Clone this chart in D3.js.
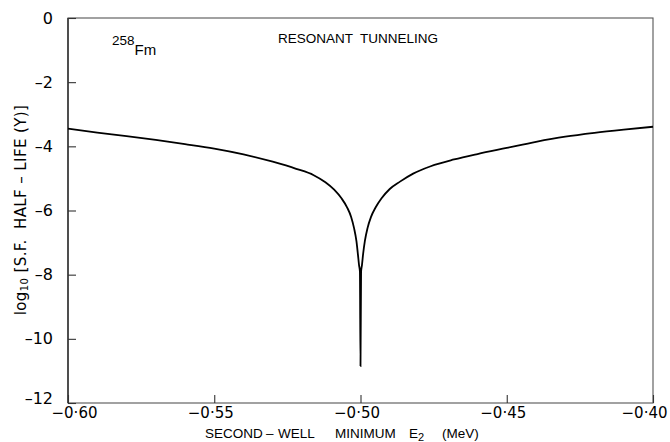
<!DOCTYPE html>
<html>
<head>
<meta charset="utf-8">
<script src="https://cdn.jsdelivr.net/npm/d3@7/dist/d3.min.js"></script>
<style>
  body { margin: 0; background: #fff; }
  svg { display: block; font-family: "Liberation Sans", "DejaVu Sans", sans-serif; }
  .pre { white-space: pre; }
</style>
</head>
<body>
<div id="chart"></div>
<script>
// second-well minimum E2 (MeV) and log10 of the S.F. half-life (years)
const energy = [-0.600, -0.590, -0.580, -0.570, -0.560, -0.550, -0.540, -0.530, -0.522, -0.516,
    -0.512, -0.509, -0.5065, -0.5046, -0.5032, -0.5022, -0.5014, -0.5009, -0.5005, -0.5002,
    -0.5000,
    -0.4998, -0.4995, -0.4991, -0.4985, -0.4976, -0.4964, -0.4948, -0.4928, -0.4900, -0.4865,
    -0.482, -0.476, -0.468, -0.460, -0.450, -0.440, -0.430, -0.420, -0.410, -0.400];
const logHalfLife = [-3.45, -3.57, -3.68, -3.80, -3.93, -4.07, -4.25, -4.48, -4.70, -4.90,
    -5.12, -5.35, -5.62, -5.90, -6.20, -6.55, -6.95, -7.35, -7.70, -7.90,
    -10.85,
    -7.90, -7.70, -7.35, -6.95, -6.55, -6.20, -5.90, -5.62, -5.33, -5.10,
    -4.85, -4.62, -4.41, -4.24, -4.05, -3.86, -3.70, -3.58, -3.48, -3.39];

const xTicks = [-0.60, -0.55, -0.50, -0.45, -0.40];
const yTicks = [0, -2, -4, -6, -8, -10, -12];

const width = 670;
const height = 442;
const margin = {top: 18, right: 17, bottom: 39, left: 68};

const svg = d3.select("#chart")
    .append("svg")
    .attr("width", width)
    .attr("height", height);

const x = d3.scaleLinear().domain([-0.60, -0.40]).range([margin.left, width - margin.right]);
const y = d3.scaleLinear().domain([-12, 0]).range([height - margin.bottom, margin.top]);

const fmtX = d => d3.format(".2f")(d).replace(".", "·").replace("-", "–");
const fmtY = d => d === 0 ? "0" : "–" + Math.abs(d);

// frame
svg.append("rect")
    .attr("x", x(-0.60))
    .attr("y", y(0))
    .attr("width", x(-0.40) - x(-0.60))
    .attr("height", y(-12) - y(0))
    .attr("fill", "none")
    .attr("stroke", "#555")
    .attr("stroke-width", 1.1);
svg.append("line")
    .attr("x1", x(-0.60)).attr("x2", x(-0.60))
    .attr("y1", y(0)).attr("y2", y(-12))
    .attr("stroke", "#222")
    .attr("stroke-width", 1.3);

const xAxis = svg.append("g")
    .attr("transform", `translate(0,${y(-12)})`)
    .call(d3.axisBottom(x).tickValues(xTicks).tickFormat(fmtX)
        .tickSizeInner(-8).tickSizeOuter(0).tickPadding(4));

const yAxis = svg.append("g")
    .attr("transform", `translate(${x(-0.60)},0)`)
    .call(d3.axisLeft(y).tickValues(yTicks).tickFormat(fmtY)
        .tickSizeInner(-8).tickSizeOuter(0).tickPadding(15));

[xAxis, yAxis].forEach(g => {
    g.select(".domain").remove();
    g.selectAll(".tick line").attr("stroke", "#333").attr("stroke-width", 1.1);
    g.selectAll(".tick text")
        .attr("fill", "#000")
        .style("font-family", "'DejaVu Sans', sans-serif");
});
xAxis.selectAll(".tick text")
    .style("font-size", "15px")
    .attr("text-anchor", (d, i) => i === 0 ? "start" : i === xTicks.length - 1 ? "end" : "middle")
    .attr("dx", (d, i) => i === 0 ? -17 : i === xTicks.length - 1 ? 14 : -4);
yAxis.selectAll(".tick text")
    .style("font-size", "16px")
    .attr("dy", d => d === -12 ? "0.05em" : "0.32em");

// curve
const line = d3.line()
    .x((d, i) => x(energy[i]))
    .y(d => y(d))
    .curve(d3.curveMonotoneX);

svg.append("path")
    .datum(logHalfLife)
    .attr("d", line)
    .attr("fill", "none")
    .attr("stroke", "#000")
    .attr("stroke-width", 1.8);

// annotations
const nucl = svg.append("text").attr("x", 112).attr("y", 45).attr("fill", "#000");
nucl.append("tspan").style("font-size", "13.5px").text("258");
nucl.append("tspan").attr("dy", 10).style("font-size", "15px").text("Fm");

svg.append("text")
    .attr("class", "pre")
    .attr("x", 278)
    .attr("y", 43)
    .attr("fill", "#000")
    .style("font-size", "13.5px")
    .text("RESONANT  TUNNELING");

// x axis title, words placed as in the reference lettering
const xt = svg.append("text")
    .attr("y", 438)
    .attr("fill", "#000")
    .style("font-size", "13.5px");
xt.append("tspan").attr("x", 205).text("SECOND");
xt.append("tspan").attr("x", 266).text("–");
xt.append("tspan").attr("x", 278).text("WELL");
xt.append("tspan").attr("x", 335).text("MINIMUM");
xt.append("tspan").attr("x", 409).text("E");
xt.append("tspan").attr("dy", 3).style("font-size", "11px").text("2");
xt.append("tspan").attr("x", 442).attr("dy", -3).text("(MeV)");

// y axis title
const yt = svg.append("text")
    .attr("class", "pre")
    .attr("transform", "translate(26,210) rotate(-90)")
    .attr("text-anchor", "middle")
    .attr("fill", "#000")
    .style("font-family", "'DejaVu Sans', sans-serif")
    .style("font-size", "15px")
    .style("letter-spacing", "0.4px");
yt.append("tspan").text("log");
yt.append("tspan").attr("dy", 2).style("font-size", "10px").text("10");
yt.append("tspan").attr("dy", -2).text(" [S.F.  HALF – LIFE (Y)]");
</script>
</body>
</html>
